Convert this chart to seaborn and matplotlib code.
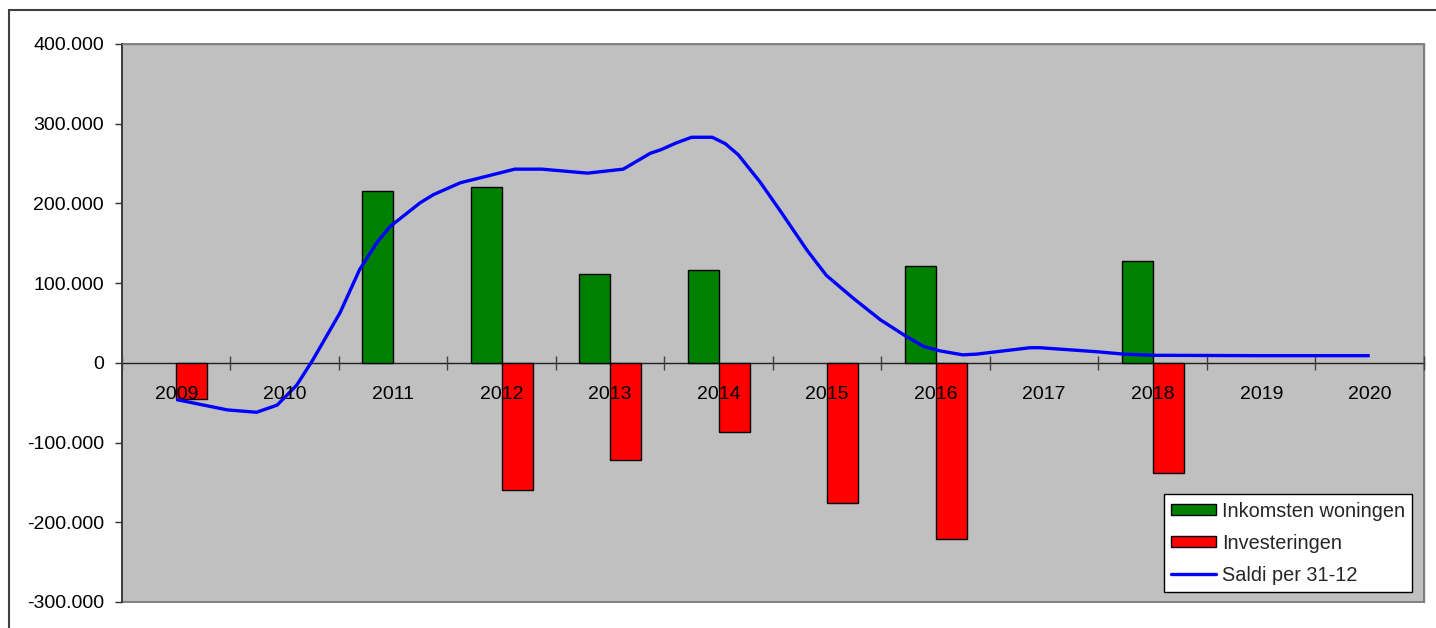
import numpy as np
import pandas as pd
import matplotlib
matplotlib.use("Agg")
import matplotlib.pyplot as plt
import seaborn as sns
from matplotlib.patches import Patch, Rectangle
from matplotlib.lines import Line2D
from matplotlib.ticker import FixedLocator, FuncFormatter

# ---------------- data ----------------
years = [2009, 2010, 2011, 2012, 2013, 2014, 2015, 2016, 2017, 2018, 2019, 2020]
inkomsten = [None, None, 216000, 220000, 112000, 116000, None, 122000, None, 128000, None, None]
investeringen = [-45000, None, None, -160000, -122000, -87000, -176000, -221000, None, -138000, None, None]

saldi_tijd = [2009.00, 2009.47, 2009.74, 2009.93, 2010.11, 2010.26, 2010.51, 2010.69,
              2010.85, 2010.97, 2011.25, 2011.37, 2011.62, 2011.77, 2012.12, 2012.37,
              2012.79, 2013.12, 2013.37, 2013.46, 2013.61, 2013.75, 2013.94, 2014.06,
              2014.18, 2014.38, 2014.56, 2014.81, 2014.99, 2015.24, 2015.49, 2015.73,
              2015.89, 2016.04, 2016.25, 2016.38, 2016.87, 2016.96, 2017.48, 2017.73,
              2018.00, 2019.00, 2020.00]
saldi_waarde = [-46000, -59000, -62000, -53000, -28000, 4000, 63000, 117000,
                151000, 171000, 201000, 211000, 226000, 231000, 243000, 243000,
                238000, 243000, 263000, 267000, 276000, 283000, 283000, 275000,
                261000, 227000, 192000, 142000, 110000, 81000, 54000, 33000,
                20500, 15000, 10000, 11000, 19000, 19000, 14000, 11000,
                9500, 9000, 9000]

y_ticks = [-300000, -200000, -100000, 0, 100000, 200000, 300000, 400000]

labels = ["Inkomsten woningen", "Investeringen", "Saldi per 31-12"]
colors = {"Inkomsten woningen": "#008000", "Investeringen": "#FF0000"}

# ---------------- long format ----------------
rows = []
for y, a, b in zip(years, inkomsten, investeringen):
    if a is not None:
        rows.append({"jaar": str(y), "serie": labels[0], "bedrag": a})
    if b is not None:
        rows.append({"jaar": str(y), "serie": labels[1], "bedrag": b})
df = pd.DataFrame(rows)

sns.set_style("white")
plt.rcParams["font.family"] = ["Liberation Sans", "DejaVu Sans"]

fig = plt.figure(figsize=(14.36, 6.28), dpi=100)
fig.patch.set_facecolor("white")
ax = fig.add_axes([122 / 1436, 1 - 602 / 628, (1424 - 122) / 1436, (602 - 44) / 628])

sns.barplot(data=df, x="jaar", y="bedrag", hue="serie",
            order=[str(y) for y in years], hue_order=labels[:2],
            palette=colors, saturation=1, width=0.572, gap=0, dodge=True,
            edgecolor="black", linewidth=1.0, errorbar=None,
            legend=False, ax=ax, zorder=2)

line_x = [t - years[0] for t in saldi_tijd]
sns.lineplot(x=line_x, y=saldi_waarde, color="#0000FF", linewidth=2.4,
             estimator=None, sort=False, ax=ax, zorder=3,
             solid_joinstyle="round", solid_capstyle="butt")

# ---------------- axes styling ----------------
ax.set_facecolor("#C0C0C0")
ax.set_xlim(-0.5, len(years) - 0.5)
ax.set_ylim(-300000, 400000)
ax.set_xlabel("")
ax.set_ylabel("")

ax.spines["bottom"].set_position(("data", 0))
ax.spines["bottom"].set_color("#202020")
ax.spines["bottom"].set_linewidth(1.0)
ax.spines["bottom"].set_zorder(1.5)
ax.spines["left"].set_color("#303030")
ax.spines["left"].set_linewidth(1.2)
for s in ["top", "right"]:
    ax.spines[s].set_color("#808080")
    ax.spines[s].set_linewidth(1.0)
ax.add_patch(Rectangle((0, 0), 1, 1, transform=ax.transAxes, fill=False,
                       edgecolor="#707070", linewidth=1.2, zorder=0.5, clip_on=False))

ax.xaxis.set_major_locator(FixedLocator(list(range(len(years)))))
ax.set_xticklabels([str(y) for y in years], fontsize=14, color="black")
ax.xaxis.set_minor_locator(FixedLocator([i + 0.5 for i in range(-1, len(years))]))
ax.tick_params(axis="x", which="major", length=0, pad=17)
ax.tick_params(axis="x", which="minor", direction="inout", length=9.5,
               width=1.0, color="#404040", bottom=True)
ax.xaxis.set_zorder(4)

ax.yaxis.set_major_locator(FixedLocator(y_ticks))
ax.yaxis.set_major_formatter(FuncFormatter(lambda v, p: f"{int(v):,}".replace(",", ".")))
ax.tick_params(axis="y", which="major", direction="out", length=5, width=1.0,
               color="#303030", pad=8, labelsize=14, left=True)
for lab in ax.get_yticklabels():
    lab.set_color("black")

# ---------------- legend ----------------
handles = [Patch(facecolor="#008000", edgecolor="black", linewidth=1.0),
           Patch(facecolor="#FF0000", edgecolor="black", linewidth=1.0),
           Line2D([0], [0], color="#0000FF", linewidth=2.4)]
leg = fig.legend(handles, labels, loc="lower right",
                 bbox_to_anchor=(1412 / 1436, 1 - 592 / 628),
                 frameon=True, fancybox=False, shadow=False, fontsize=14.3,
                 borderaxespad=0, handlelength=2.25, handleheight=0.5,
                 handletextpad=0.3, labelspacing=0.66, borderpad=0.36)
leg.get_frame().set_edgecolor("black")
leg.get_frame().set_linewidth(1.0)
leg.get_frame().set_facecolor("white")
leg.get_frame().set_alpha(1.0)

# outer chart border
fig.patches.append(Rectangle((9 / 1436, -0.05), 1.2, 0.05 + 1 - 10 / 628,
                             transform=fig.transFigure, fill=False,
                             edgecolor="#404040", linewidth=1.5, figure=fig))

fig.savefig("out.png", dpi=100)
